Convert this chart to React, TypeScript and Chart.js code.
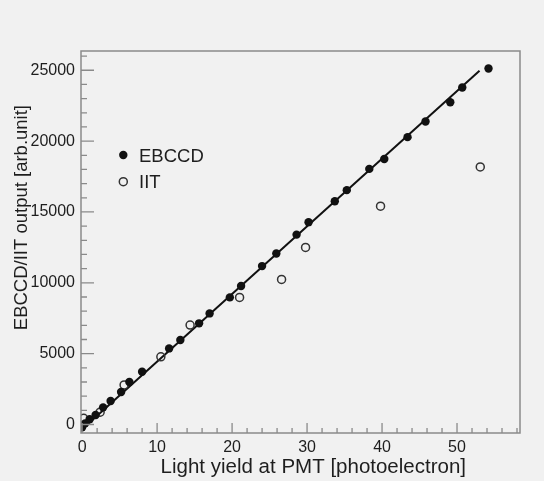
import React, { useEffect, useRef } from "react";
import Chart from "chart.js/auto";

const xTicks = [0, 10, 20, 30, 40, 50];
const yTicks = [0, 5000, 10000, 15000, 20000, 25000];

const ebccdX = [0.0, 0.4, 1.0, 1.8, 2.8, 3.8, 5.2, 6.3, 8.0, 11.6, 13.1, 15.6, 17.0, 19.7, 21.2, 24.0, 25.9, 28.6, 30.2, 33.7, 35.3, 38.3, 40.3, 43.4, 45.8, 49.1, 50.7, 54.2];
const ebccdY = [-200, 80, 370, 670, 1210, 1660, 2290, 3000, 3720, 5370, 5960, 7140, 7840, 8970, 9770, 11180, 12070, 13400, 14280, 15760, 16540, 18040, 18740, 20280, 21380, 22740, 23780, 25120];

const iitX = [0.2, 2.4, 5.6, 10.5, 14.4, 21.0, 26.6, 29.8, 39.8, 53.1];
const iitY = [440, 870, 2790, 4780, 7020, 8970, 10240, 12500, 15410, 18180];

const fitX = [0.0, 53.0];
const fitY = [-330, 24960];

const seriesNames = ["EBCCD", "IIT"];
const xTitle = "Light yield at PMT [photoelectron]";
const yTitle = "EBCCD/IIT output [arb.unit]";

const FRAME = "#8a8a8a";
const INK = "#1e1e1e";
const FONT = "'Liberation Sans', Arial, sans-serif";

export default function App() {
  const ref = useRef<HTMLCanvasElement | null>(null);

  useEffect(() => {
    const canvas = ref.current;
    if (!canvas) return;

    const bgPlugin = {
      id: "bg",
      beforeDraw(chart: any) {
        const ctx = chart.ctx;
        ctx.save();
        ctx.fillStyle = "#f1f1f1";
        ctx.fillRect(0, 0, chart.width, chart.height);
        ctx.restore();
      },
    };

    const framePlugin = {
      id: "frame",
      afterDraw(chart: any) {
        const ctx = chart.ctx;
        const a = chart.chartArea;
        const xs = chart.scales.x;
        const ys = chart.scales.y;
        ctx.save();
        ctx.strokeStyle = FRAME;
        ctx.lineWidth = 1.5;
        ctx.strokeRect(a.left, a.top, a.right - a.left, a.bottom - a.top);
        ctx.lineWidth = 1.3;
        ctx.beginPath();
        for (let v = 0; v <= ys.max; v += 1000) {
          const p = ys.getPixelForValue(v);
          const len = v % 5000 === 0 ? 13 : 6;
          ctx.moveTo(a.left, p);
          ctx.lineTo(a.left + len, p);
        }
        for (let v = 0; v <= xs.max; v += 2) {
          const p = xs.getPixelForValue(v);
          const len = v % 10 === 0 ? 10 : 5;
          ctx.moveTo(p, a.bottom);
          ctx.lineTo(p, a.bottom - len);
        }
        ctx.stroke();

        ctx.fillStyle = INK;
        ctx.font = `20.5px ${FONT}`;
        ctx.textAlign = "right";
        ctx.textBaseline = "alphabetic";
        ctx.fillText(xTitle, 466, 473);

        ctx.save();
        ctx.translate(27, 105);
        ctx.rotate(-Math.PI / 2);
        ctx.font = `18.5px ${FONT}`;
        ctx.textAlign = "right";
        ctx.fillText(yTitle, 0, 0);
        ctx.restore();

        const ds = chart.data.datasets;
        const lx = 123.3;
        const rows = [155, 181.7];
        const base = [161.7, 188.3];
        for (let i = 0; i < 2; i++) {
          const d: any = ds[i];
          ctx.beginPath();
          ctx.arc(lx, rows[i], d.pointRadius, 0, Math.PI * 2);
          if (i === 0) {
            ctx.fillStyle = d.backgroundColor;
            ctx.fill();
          } else {
            ctx.strokeStyle = d.borderColor;
            ctx.lineWidth = d.borderWidth;
            ctx.stroke();
          }
          ctx.fillStyle = INK;
          ctx.font = `18.5px ${FONT}`;
          ctx.textAlign = "left";
          ctx.fillText(seriesNames[i], 139, base[i]);
        }
        ctx.restore();
      },
    };

    const chart = new Chart(canvas, {
      type: "scatter",
      data: {
        datasets: [
          {
            label: seriesNames[0],
            data: ebccdX.map((x, i) => ({ x, y: ebccdY[i] })),
            pointRadius: 4.2,
            backgroundColor: "#111111",
            borderColor: "#111111",
            borderWidth: 0,
          } as any,
          {
            label: seriesNames[1],
            data: iitX.map((x, i) => ({ x, y: iitY[i] })),
            pointRadius: 4,
            backgroundColor: "rgba(0,0,0,0)",
            borderColor: "#333333",
            borderWidth: 1.5,
          } as any,
          {
            type: "line",
            label: "fit",
            data: fitX.map((x, i) => ({ x, y: fitY[i] })),
            borderColor: "#111111",
            borderWidth: 2,
            pointRadius: 0,
            showLine: true,
            fill: false,
          } as any,
        ],
      },
      options: {
        animation: false,
        responsive: false,
        maintainAspectRatio: false,
        layout: { padding: { left: 0, top: 51, right: 24, bottom: 0 } },
        plugins: {
          legend: { display: false },
          tooltip: { enabled: false },
        },
        scales: {
          x: {
            type: "linear",
            min: -0.15,
            max: 58.4,
            grid: { display: false, drawTicks: false, tickLength: 0 },
            border: { display: false },
            afterBuildTicks: (s: any) => {
              s.ticks = xTicks.map((v) => ({ value: v }));
            },
            afterFit: (s: any) => {
              s.height = 48;
            },
            ticks: {
              color: INK,
              font: { family: FONT, size: 16 },
              padding: 5,
              maxRotation: 0,
              autoSkip: false,
              callback: (v: any) => String(v),
            },
          },
          y: {
            type: "linear",
            min: -600,
            max: 26360,
            grid: { display: false, drawTicks: false, tickLength: 0 },
            border: { display: false },
            afterBuildTicks: (s: any) => {
              s.ticks = yTicks.map((v) => ({ value: v }));
            },
            afterFit: (s: any) => {
              s.width = 81;
            },
            ticks: {
              color: INK,
              font: { family: FONT, size: 16 },
              padding: 6,
              autoSkip: false,
              callback: (v: any) => String(v),
            },
          },
        },
      },
      plugins: [bgPlugin, framePlugin],
    } as any);

    return () => chart.destroy();
  }, []);

  return (
    <div style={{ position: "absolute", left: 0, top: 0, width: 544, height: 481 }}>
      <canvas ref={ref} width={544} height={481} style={{ display: "block" }} />
    </div>
  );
}
